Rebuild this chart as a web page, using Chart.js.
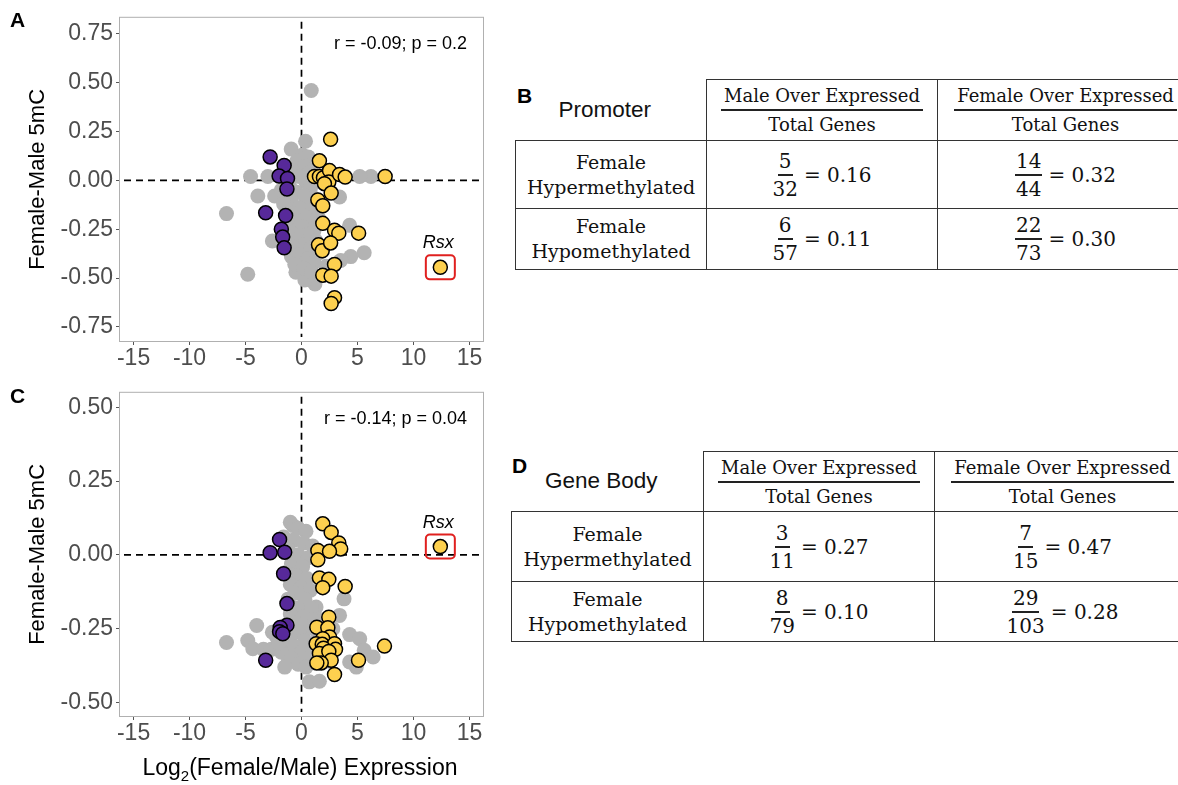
<!DOCTYPE html>
<html>
<head>
<meta charset="utf-8">
<script src="https://cdn.jsdelivr.net/npm/chart.js@4.4.1/dist/chart.umd.min.js"></script>
<style>
  html, body { margin: 0; padding: 0; background: #fff; }
  body { width: 1178px; height: 785px; position: relative; overflow: hidden; font-family: "Liberation Sans", Arial, sans-serif; }
  canvas { position: absolute; }
  .panel { position: absolute; font-weight: bold; font-size: 21px; color: #000; }
  .xtitle { position: absolute; left: 0; width: 600px; top: 754px; text-align: center; font-size: 23px; color: #000; }
  .xtitle sub { font-size: 15px; }
  table.gt { position: absolute; border-collapse: collapse; table-layout: fixed; }
  table.gt td { border: 1.5px solid #333; text-align: center; vertical-align: middle; padding: 0;
    font-family: "DejaVu Serif", serif; font-size: 18px; color: #111; white-space: nowrap; }
  table.gt td.corner { border-top: none; border-left: none; font-family: "Liberation Sans", Arial, sans-serif; font-size: 22.5px; padding-right: 12px; }
  table.gt td.rowlab { line-height: 25px; font-size: 19px; }
  .frac { display: inline-flex; flex-direction: column; align-items: center; vertical-align: middle; }
  .frac .num { border-bottom: 2px solid #222; padding: 0 1px; line-height: 26px; }
  .frac .den { line-height: 26px; }
  .frac.head .num { padding: 0 3px; line-height: 27px; }
  .frac.head .den { line-height: 27px; }
  td.val { font-size: 20px !important; }
  .eq { display: inline-block; vertical-align: middle; margin-left: 6px; }
</style>
</head>
<body>
<canvas id="chartA" width="500" height="380" style="left:0;top:0"></canvas>
<canvas id="chartC" width="500" height="380" style="left:0;top:375px"></canvas>
<div class="panel" style="left:10px;top:8px">A</div>
<div class="panel" style="left:10px;top:384px">C</div>
<div class="panel" style="left:517px;top:84px">B</div>
<div class="panel" style="left:512px;top:454px">D</div>
<div class="xtitle">Log<sub>2</sub>(Female/Male) Expression</div>
<table class="gt" id="tableB" style="left:515px;top:79px;width:678px"></table>
<table class="gt" id="tableD" style="left:511px;top:451px;width:679px"></table>

<script>
// ---- data : panel A (promoter) ----
const grayA = [
  [0.87, 0.46], [0.36, 0.20], [-0.92, 0.16], [-4.55, 0.02], [-3.0, 0.02], [-3.9, -0.08],
  [-6.7, -0.17], [-2.4, -0.08], [-2.6, -0.31], [-4.8, -0.48], [-0.5, -0.47], [3.4, -0.085],
  [6.2, 0.02], [5.2, 0.02], [4.3, -0.23], [5.6, -0.37], [4.4, -0.39], [3.5, -0.41],
  [1.2, -0.53], [0.3, -0.51], [-0.9, -0.39], [2.2, -0.44],
  [0.1, 0.13], [0.6, 0.12], [-0.4, 0.10], [0.9, 0.08], [0.2, 0.07], [-0.8, 0.05],
  [0.7, 0.04], [-0.2, 0.02], [1.0, 0.01], [0.4, -0.01], [-1.1, -0.02], [-1.8, -0.05],
  [0.8, -0.04], [-0.5, -0.06], [0.3, -0.08], [1.1, -0.09], [-0.9, -0.11], [0.5, -0.12],
  [-0.2, -0.14], [1.0, -0.15], [-0.7, -0.17], [0.4, -0.19], [0.9, -0.21], [-0.4, -0.22],
  [0.1, -0.24], [1.1, -0.26], [-0.9, -0.27], [0.5, -0.28], [-0.3, -0.30], [1.3, -0.31],
  [0.2, -0.33], [-0.8, -0.34], [0.8, -0.35], [1.6, -0.37], [-0.2, -0.38], [0.6, -0.40],
  [1.1, -0.42], [-0.6, -0.43], [0.2, -0.45], [0.9, -0.47], [-1.3, -0.20], [-1.6, -0.12],
  [1.5, -0.19], [-1.4, -0.33]
];
const purpleA = [
  [-2.8, 0.12], [-1.55, 0.076], [-2.0, 0.022], [-1.25, 0.01], [-1.3, -0.044],
  [-3.2, -0.166], [-1.42, -0.18], [-1.8, -0.25], [-1.68, -0.29], [-1.55, -0.345]
];
const yellowA = [
  [2.6, 0.21], [1.6, 0.10], [1.16, 0.02], [1.6, 0.02], [1.96, 0.014], [2.5, 0.05],
  [2.44, -0.008], [2.05, -0.017], [3.4, 0.03], [3.9, 0.017], [7.47, 0.02], [2.65, -0.065],
  [1.46, -0.10], [1.9, -0.13], [1.9, -0.22], [2.95, -0.255], [3.33, -0.27], [5.1, -0.27],
  [1.52, -0.33], [1.85, -0.36], [2.6, -0.32], [2.95, -0.43], [1.9, -0.485], [2.65, -0.49],
  [2.95, -0.60], [2.65, -0.63]
];
const rsxA = [[12.4, -0.445]];
const yTicksA = [-0.75, -0.5, -0.25, 0, 0.25, 0.5, 0.75];
const rTextA = 'r = -0.09; p = 0.2';

// ---- data : panel C (gene body) ----
const grayC = [
  [-6.7, -0.297], [-4.8, -0.29], [-4.0, -0.239], [-4.35, -0.318], [-3.4, -0.32], [-2.6, -0.262],
  [-2.7, -0.32], [-0.77, 0.099], [0.7, -0.43], [1.6, -0.428], [4.3, -0.27], [5.2, -0.284],
  [5.6, -0.323], [6.4, -0.346], [4.9, -0.38], [4.3, -0.363], [3.8, -0.149], [3.4, -0.205],
  [1.3, -0.177], [-1.2, -0.363], [-0.5, -0.363], [-1.4, -0.323],
  [-1.0, 0.11], [-0.3, 0.09], [0.4, 0.08], [-1.6, 0.06], [-0.7, 0.05], [0.2, 0.04],
  [1.0, 0.03], [-1.2, 0.02], [-0.3, 0.0], [0.6, -0.01], [-0.9, -0.03], [0.1, -0.04],
  [-1.4, -0.06], [-0.5, -0.07], [0.5, -0.08], [-1.0, -0.10], [0.0, -0.11], [0.8, -0.12],
  [-0.6, -0.13], [-1.2, -0.15], [0.3, -0.15], [-0.3, -0.18], [0.9, -0.18], [-1.0, -0.20],
  [0.2, -0.21], [-0.5, -0.23], [1.2, -0.22], [-1.5, -0.24], [0.5, -0.25], [-0.2, -0.26],
  [1.5, -0.27], [-2.2, -0.28], [-1.0, -0.28], [0.3, -0.29], [-0.6, -0.31], [1.0, -0.31],
  [-1.8, -0.33], [0.0, -0.33], [-0.9, -0.35], [0.6, -0.35], [1.4, -0.36], [-0.3, -0.37],
  [-1.5, -0.38], [0.4, -0.38], [2.2, -0.30], [2.5, -0.36], [-2.0, -0.30], [1.9, -0.22],
  [2.8, -0.25]
];
const purpleC = [
  [-1.96, 0.052], [-2.8, 0.007], [-1.5, 0.009], [-1.6, -0.064], [-1.3, -0.165],
  [-1.3, -0.238], [-1.9, -0.246], [-1.96, -0.26], [-1.67, -0.267], [-3.2, -0.357]
];
const yellowC = [
  [1.9, 0.105], [2.65, 0.076], [3.33, 0.04], [3.5, 0.02], [1.46, 0.015], [2.5, 0.012],
  [1.46, -0.017], [1.6, -0.078], [2.44, -0.083], [1.9, -0.111], [3.9, -0.107], [2.44, -0.211],
  [1.37, -0.245], [2.35, -0.247], [2.5, -0.278], [1.9, -0.284], [1.31, -0.301], [1.85, -0.303],
  [2.95, -0.301], [3.04, -0.32], [1.96, -0.316], [1.6, -0.334], [2.44, -0.327], [2.65, -0.357],
  [1.76, -0.366], [1.37, -0.366], [2.95, -0.405], [5.09, -0.357], [7.41, -0.309]
];
const rsxC = [[12.4, 0.028]];
const yTicksC = [-0.5, -0.25, 0, 0.25, 0.5];
const rTextC = 'r = -0.14; p = 0.04';

const xTicks = [-15, -10, -5, 0, 5, 10, 15];

// ---- data : tables B / D ----
const colLabels = ['Male Over Expressed', 'Female Over Expressed'];
const colDenLabel = 'Total Genes';
const rowLabels = [['Female', 'Hypermethylated'], ['Female', 'Hypomethylated']];
const promoterNum = [[5, 14], [6, 22]];
const promoterDen = [[32, 44], [57, 73]];
const bodyNum = [[3, 7], [8, 29]];
const bodyDen = [[11, 15], [79, 103]];

const GRAY = '#b3b3b3';
const PURPLE = '#57299a';
const YELLOW = '#fdd04f';
const FONT = '"Liberation Sans", Arial';

// dashed zero lines, frame, r label and the Rsx box
const overlay = {
  id: 'overlay',
  beforeDatasetsDraw(chart) {
    const { ctx, chartArea: a, scales: { x, y } } = chart;
    const x0 = x.getPixelForValue(0), y0 = y.getPixelForValue(0);
    ctx.save();
    ctx.strokeStyle = '#000';
    ctx.lineWidth = 1.7;
    ctx.setLineDash([7, 5]);
    ctx.beginPath(); ctx.moveTo(x0, a.top + 5); ctx.lineTo(x0, a.bottom - 5); ctx.stroke();
    ctx.beginPath(); ctx.moveTo(a.left + 5, y0); ctx.lineTo(a.right - 5, y0); ctx.stroke();
    ctx.restore();
  },
  afterDatasetsDraw(chart, args, opts) {
    const { ctx, chartArea: a } = chart;
    ctx.save();
    ctx.strokeStyle = '#b0b0b0';
    ctx.lineWidth = 1;
    ctx.strokeRect(a.left + 0.5, a.top + 0.5, a.width - 1, a.height - 1);

    ctx.fillStyle = '#000';
    ctx.font = '18px ' + FONT;
    ctx.textAlign = 'right';
    ctx.textBaseline = 'middle';
    ctx.fillText(opts.rText, a.right - 17, a.top + 27);

    const idx = chart.data.datasets.findIndex(d => d.label === 'Rsx');
    const pt = chart.getDatasetMeta(idx).data[0];
    ctx.strokeStyle = '#e0201f';
    ctx.lineWidth = 2;
    ctx.beginPath();
    ctx.roundRect(pt.x - 14.5, pt.y - 12, 29, 24, 4);
    ctx.stroke();
    ctx.font = 'italic 18px ' + FONT;
    ctx.textAlign = 'center';
    ctx.fillText('Rsx', pt.x - 2, pt.y - 24);
    ctx.restore();
  }
};

function toPts(arr) {
  return arr.map(p => ({ x: p[0], y: p[1] }));
}

function makeScatter(id, grays, purples, yellows, rsx, yTicks, yMin, yMax, rText) {
  const ctx = document.getElementById(id);
  return new Chart(ctx, {
    type: 'scatter',
    data: {
      datasets: [
        { label: 'Rsx', data: toPts(rsx), backgroundColor: YELLOW, borderColor: '#000', borderWidth: 1.5, pointRadius: 7, order: 1 },
        { label: 'female', data: toPts(yellows), backgroundColor: YELLOW, borderColor: '#000', borderWidth: 1.5, pointRadius: 7, order: 2 },
        { label: 'male', data: toPts(purples), backgroundColor: PURPLE, borderColor: '#000', borderWidth: 1.5, pointRadius: 7, order: 3 },
        { label: 'other', data: toPts(grays), backgroundColor: GRAY, borderWidth: 0, pointRadius: 7.5, order: 4 }
      ]
    },
    options: {
      responsive: false,
      animation: false,
      devicePixelRatio: 1,
      layout: { padding: { top: 16, right: 16, left: 0, bottom: 0 } },
      plugins: {
        legend: { display: false },
        tooltip: { enabled: false },
        overlay: { rText: rText }
      },
      scales: {
        x: {
          type: 'linear',
          min: -16.3,
          max: 16.3,
          afterBuildTicks: s => { s.ticks = xTicks.map(v => ({ value: v })); },
          afterFit: s => { s.height = 38; },
          border: { display: false },
          grid: { drawOnChartArea: false, tickLength: 3, color: '#555' },
          ticks: { color: '#4d4d4d', font: { size: 23, family: FONT }, padding: 0, maxRotation: 0 }
        },
        y: {
          type: 'linear',
          min: yMin,
          max: yMax,
          afterBuildTicks: s => { s.ticks = yTicks.map(v => ({ value: v })); },
          afterFit: s => { s.width = 119; },
          border: { display: false },
          grid: { drawOnChartArea: false, tickLength: 3, color: '#555' },
          ticks: { color: '#4d4d4d', font: { size: 23, family: FONT }, padding: 3,
            callback: v => v.toFixed(2) },
          title: { display: true, text: 'Female-Male 5mC', color: '#000',
            font: { size: 22, family: FONT }, padding: { top: 25, bottom: 0 } }
        }
      }
    },
    plugins: [overlay]
  });
}

makeScatter('chartA', grayA, purpleA, yellowA, rsxA, yTicksA, -0.827, 0.837, rTextA);
makeScatter('chartC', grayC, purpleC, yellowC, rsxC, yTicksC, -0.549, 0.552, rTextC);

function fracHtml(n, d) {
  return `<span class="frac"><span class="num">${n}</span><span class="den">${d}</span></span>` +
    `<span class="eq">= ${(n / d).toFixed(2)}</span>`;
}

function buildTable(id, title, num, den, widths, heights) {
  const t = document.getElementById(id);
  let html = '<colgroup>' + widths.map(w => `<col style="width:${w}px">`).join('') + '</colgroup>';
  html += `<tr style="height:${heights[0]}px"><td class="corner">${title}</td>`;
  colLabels.forEach(c => {
    html += `<td><span class="frac head"><span class="num">${c}</span><span class="den">${colDenLabel}</span></span></td>`;
  });
  html += '</tr>';
  rowLabels.forEach((r, i) => {
    html += `<tr style="height:${heights[i + 1]}px"><td class="rowlab">${r[0]}<br>${r[1]}</td>`;
    num[i].forEach((n, j) => { html += `<td class="val">${fracHtml(n, den[i][j])}</td>`; });
    html += '</tr>';
  });
  t.innerHTML = html;
}

buildTable('tableB', 'Promoter', promoterNum, promoterDen, [191, 231, 256], [61, 68, 61]);
buildTable('tableD', 'Gene Body', bodyNum, bodyDen, [192, 231, 256], [60, 70, 60]);
</script>
</body>
</html>
